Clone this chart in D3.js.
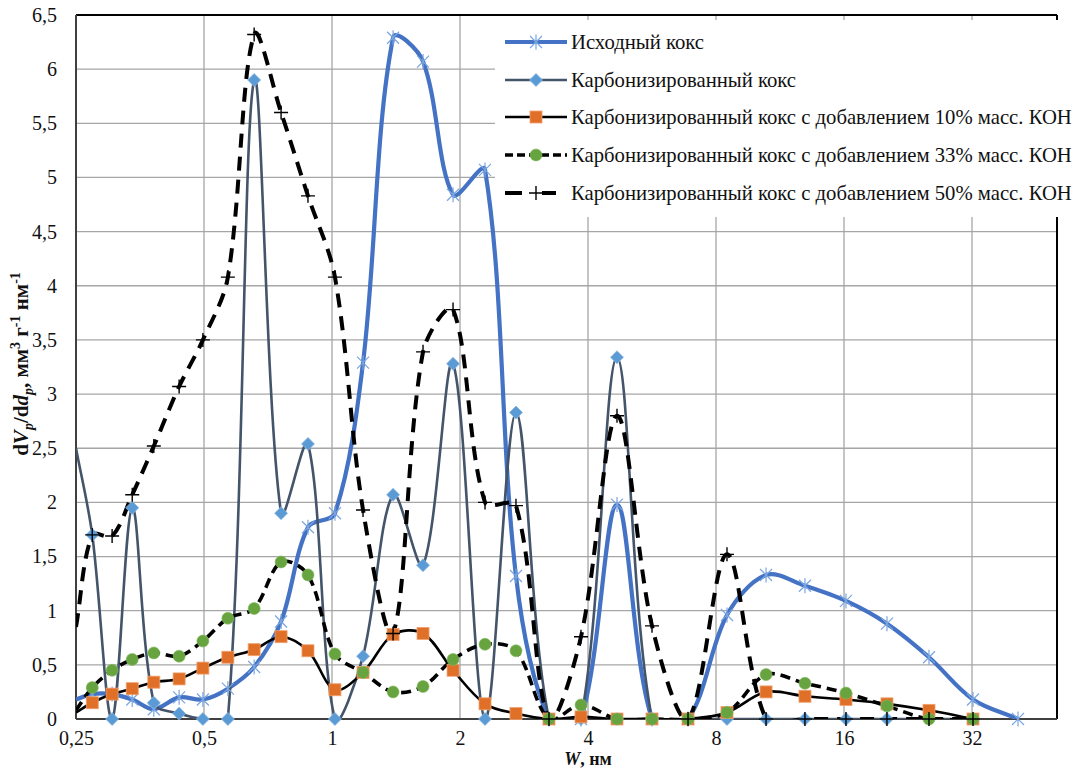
<!DOCTYPE html>
<html><head><meta charset="utf-8">
<script src="https://cdn.jsdelivr.net/npm/d3@7/dist/d3.min.js"></script>
<style>
body{margin:0;background:#fff;}
svg{display:block;font-family:"Liberation Serif","Times New Roman",serif;}
</style></head>
<body>
<svg id="chart" width="1082" height="771"></svg>
<script>
// Pore widths W, nm (shared x positions of all series)
const poreWidth = [0.25, 0.273, 0.304, 0.339, 0.381, 0.437, 0.497, 0.569, 0.656, 0.759, 0.878, 1.016, 1.183, 1.392, 1.637, 1.926, 2.290, 2.708, 3.238, 3.851, 4.68, 5.657, 6.875, 8.49, 10.49, 12.95, 16.17, 20.19, 25.35, 32.17, 41.05];

const initialCoke   = [0.18, 0.23, 0.23, 0.18, 0.09, 0.20, 0.18, 0.28, 0.48, 0.90, 1.77, 1.90, 3.29, 6.29, 6.07, 4.84, 5.07, 1.32, 0, 0, 1.98, 0, 0, 0.96, 1.33, 1.23, 1.09, 0.88, 0.57, 0.18, 0];
const carbonized    = [2.50, 1.70, 0, 1.95, 0.15, 0.05, 0, 0, 5.90, 1.90, 2.54, 0, 0.58, 2.07, 1.42, 3.28, 0, 2.83, 0, 0, 3.34, 0, 0, 0, 0, 0, 0, 0, 0, 0, null];
const koh10         = [0.06, 0.15, 0.23, 0.28, 0.34, 0.37, 0.47, 0.57, 0.64, 0.76, 0.63, 0.27, 0.43, 0.78, 0.79, 0.45, 0.14, 0.05, 0, 0.02, 0, 0, 0, 0.06, 0.25, 0.21, 0.18, 0.14, 0.08, 0, null];
const koh33         = [0.08, 0.29, 0.45, 0.55, 0.61, 0.58, 0.72, 0.93, 1.02, 1.45, 1.33, 0.60, 0.43, 0.25, 0.30, 0.55, 0.69, 0.63, 0, 0.13, 0, 0, 0, 0.06, 0.41, 0.33, 0.24, 0.12, 0, 0, null];
const koh50         = [0.85, 1.70, 1.69, 2.07, 2.52, 3.07, 3.50, 4.08, 6.32, 5.60, 4.83, 4.08, 1.93, 0.79, 3.39, 3.78, 2.00, 1.97, 0, 0.76, 2.80, 0.86, 0, 1.52, 0, 0, 0, 0, 0, 0, null];

const seriesNames = [
  "Исходный кокс",
  "Карбонизированный кокс",
  "Карбонизированный кокс с добавлением 10% масс. КОН",
  "Карбонизированный кокс с добавлением 33% масс. КОН",
  "Карбонизированный кокс с добавлением 50% масс. КОН"
];
const xTicks = [0.25, 0.5, 1, 2, 4, 8, 16, 32];
const xTickLabels = ["0,25", "0,5", "1", "2", "4", "8", "16", "32"];
const yTicks = [0, 0.5, 1, 1.5, 2, 2.5, 3, 3.5, 4, 4.5, 5, 5.5, 6, 6.5];
const yTickLabels = ["0", "0,5", "1", "1,5", "2", "2,5", "3", "3,5", "4", "4,5", "5", "5,5", "6", "6,5"];

const svg = d3.select("#chart");
const plot = {l: 76, r: 1057, t: 15, b: 719};

const x = d3.scaleLog().base(2).domain([0.25, 50.7]).range([plot.l, plot.r]);
const y = d3.scaleLinear().domain([0, 6.5]).range([plot.b, plot.t]);

// gridlines
const grid = svg.append("g");
grid.selectAll("line.h").data(yTicks.slice(1)).enter().append("line")
  .attr("x1", plot.l).attr("x2", plot.r).attr("y1", d => y(d)).attr("y2", d => y(d))
  .attr("stroke", "#a6a6a6").attr("stroke-width", 1.3);
grid.selectAll("line.v").data(xTicks.slice(1)).enter().append("line")
  .attr("x1", d => x(d)).attr("x2", d => x(d)).attr("y1", plot.t).attr("y2", plot.b)
  .attr("stroke", "#a6a6a6").attr("stroke-width", 1.3);

// axes
const xAxis = d3.axisBottom(x).tickValues(xTicks).tickFormat((d, i) => xTickLabels[i]).tickSize(0).tickPadding(12);
const yAxis = d3.axisLeft(y).tickValues(yTicks).tickFormat((d, i) => yTickLabels[i]).tickSize(0).tickPadding(19);
const gx = svg.append("g").attr("transform", `translate(0,${plot.b})`).call(xAxis);
const gy = svg.append("g").attr("transform", `translate(${plot.l},0)`).call(yAxis);
[gx, gy].forEach(g => {
  g.select(".domain").remove();
  g.selectAll("text").attr("font-family", "Liberation Serif").attr("font-size", 20).attr("fill", "#111");
});

// plot frame
svg.append("line").attr("x1", plot.l).attr("x2", plot.r).attr("y1", plot.t).attr("y2", plot.t).attr("stroke", "#000").attr("stroke-width", 2.2);
svg.append("line").attr("x1", plot.r).attr("x2", plot.r).attr("y1", plot.t).attr("y2", plot.b).attr("stroke", "#000").attr("stroke-width", 2);
svg.append("line").attr("x1", plot.l).attr("x2", plot.l).attr("y1", plot.t).attr("y2", plot.b).attr("stroke", "#404040").attr("stroke-width", 2);
svg.append("line").attr("x1", plot.l).attr("x2", plot.r).attr("y1", plot.b).attr("y2", plot.b).attr("stroke", "#404040").attr("stroke-width", 2);

// clip
svg.append("clipPath").attr("id", "clip").append("rect")
  .attr("x", plot.l).attr("y", plot.t).attr("width", plot.r - plot.l).attr("height", plot.b - plot.t);

// Excel-like smoothed line: Bezier with chord-length-scaled tangents
function smoothPath(pts) {
  const p = d3.path();
  const n = pts.length;
  const dist = (a, b) => Math.hypot(b[0] - a[0], b[1] - a[1]);
  p.moveTo(pts[0][0], pts[0][1]);
  for (let i = 0; i < n - 1; i++) {
    const P0 = pts[Math.max(i - 1, 0)], P1 = pts[i], P2 = pts[i + 1], P3 = pts[Math.min(i + 2, n - 1)];
    const d01 = dist(P0, P1), d12 = dist(P1, P2), d23 = dist(P2, P3);
    const f1 = (d01 + d12) > 0 ? d12 / (d01 + d12) / 3 : 0;
    const f2 = (d12 + d23) > 0 ? d12 / (d12 + d23) / 3 : 0;
    const c1 = [P1[0] + (P2[0] - P0[0]) * f1, P1[1] + (P2[1] - P0[1]) * f1];
    const c2 = [P2[0] - (P3[0] - P1[0]) * f2, P2[1] - (P3[1] - P1[1]) * f2];
    p.bezierCurveTo(c1[0], c1[1], c2[0], c2[1], P2[0], P2[1]);
  }
  return p.toString();
}

// marker painters
function star(g, cx, cy) {
  const s = 6;
  const p = `M${cx - s},${cy - s}L${cx + s},${cy + s}M${cx - s},${cy + s}L${cx + s},${cy - s}M${cx},${cy - s * 1.25}L${cx},${cy + s * 1.25}`;
  g.append("path").attr("d", p).attr("stroke", "#7AA6E0").attr("stroke-width", 1.2).attr("fill", "none");
}
function diamond(g, cx, cy) {
  g.append("path").attr("d", `M${cx},${cy - 6.5}L${cx + 6.5},${cy}L${cx},${cy + 6.5}L${cx - 6.5},${cy}Z`)
    .attr("fill", "#5B9BD5").attr("stroke", "#8DB8E2").attr("stroke-width", 0.8);
}
function square(g, cx, cy) {
  g.append("rect").attr("x", cx - 6).attr("y", cy - 6).attr("width", 12).attr("height", 12)
    .attr("fill", "#E07028").attr("stroke", "#F0A070").attr("stroke-width", 0.8);
}
function circle(g, cx, cy) {
  g.append("circle").attr("cx", cx).attr("cy", cy).attr("r", 6).attr("fill", "#67A43F").attr("stroke", "#82B860").attr("stroke-width", 0.6);
}
function plus(g, cx, cy) {
  g.append("path").attr("d", `M${cx - 7},${cy}L${cx + 7},${cy}M${cx},${cy - 7}L${cx},${cy + 7}`)
    .attr("stroke", "#000").attr("stroke-width", 1.4).attr("fill", "none");
}

const series = [
  {values: initialCoke, color: "#4472C4", width: 4.2, dash: null, marker: star, legendDash: null},
  {values: carbonized, color: "#44546A", width: 2.6, dash: null, marker: diamond, legendDash: null},
  {values: koh10, color: "#000", width: 2.6, dash: null, marker: square, legendDash: null},
  {values: koh33, color: "#000", width: 3.6, dash: "10,6", marker: circle, legendDash: "8,4"},
  {values: koh50, color: "#000", width: 4, dash: "14,9", marker: plus, legendDash: "17,20,14,20"}
];

const plotG = svg.append("g").attr("clip-path", "url(#clip)");
series.forEach(s => {
  const pts = poreWidth.map((w, i) => [w, s.values[i]]).filter(d => d[1] != null);
  const px = pts.map(d => [x(d[0]), y(d[1])]);
  const g = plotG.append("g");
  g.append("path").attr("d", smoothPath(px))
    .attr("fill", "none").attr("stroke", s.color).attr("stroke-width", s.width)
    .attr("stroke-dasharray", s.dash).attr("stroke-linejoin", "round");
  const mg = svg.append("g");
  px.forEach(d => {
    if (d[0] < plot.l + 2) return;
    s.marker(mg, d[0], d[1]);
  });
});

// legend
const lg = svg.append("g");
lg.append("rect").attr("x", 495).attr("y", 20).attr("width", 587).attr("height", 197).attr("fill", "#fff");
const rowY = [42, 80, 117, 155, 193];
series.forEach((s, i) => {
  const yy = rowY[i];
  lg.append("line").attr("x1", 505).attr("x2", 567).attr("y1", yy).attr("y2", yy)
    .attr("stroke", s.color).attr("stroke-width", s.width).attr("stroke-dasharray", s.legendDash);
  s.marker(lg, 536, yy);
  lg.append("text").attr("x", 571).attr("y", yy + 7).attr("font-size", 20.7).attr("fill", "#111").text(seriesNames[i]);
});

// x-axis title
const xt = svg.append("text").attr("x", 588).attr("y", 765).attr("text-anchor", "middle")
  .attr("font-size", 18).attr("font-weight", "bold").attr("fill", "#111");
xt.append("tspan").attr("font-style", "italic").text("W");
xt.append("tspan").text(", нм");

// y-axis title
const yt = svg.append("text").attr("transform", "translate(28,364) rotate(-90)").attr("text-anchor", "middle")
  .attr("font-size", 21).attr("font-weight", "bold").attr("fill", "#111");
yt.append("tspan").text("d");
yt.append("tspan").attr("font-style", "italic").text("V");
yt.append("tspan").attr("font-style", "italic").attr("font-size", 14).attr("dy", 5).text("p");
yt.append("tspan").attr("dy", -5).text("/d");
yt.append("tspan").attr("font-style", "italic").text("d");
yt.append("tspan").attr("font-style", "italic").attr("font-size", 14).attr("dy", 5).text("p");
yt.append("tspan").attr("dy", -5).text(", мм");
yt.append("tspan").attr("font-size", 14).attr("dy", -8).text("3");
yt.append("tspan").attr("dy", 8).text(" г");
yt.append("tspan").attr("font-size", 14).attr("dy", -8).text("-1");
yt.append("tspan").attr("dy", 8).text(" нм");
yt.append("tspan").attr("font-size", 14).attr("dy", -8).text("-1");
</script>
</body></html>
